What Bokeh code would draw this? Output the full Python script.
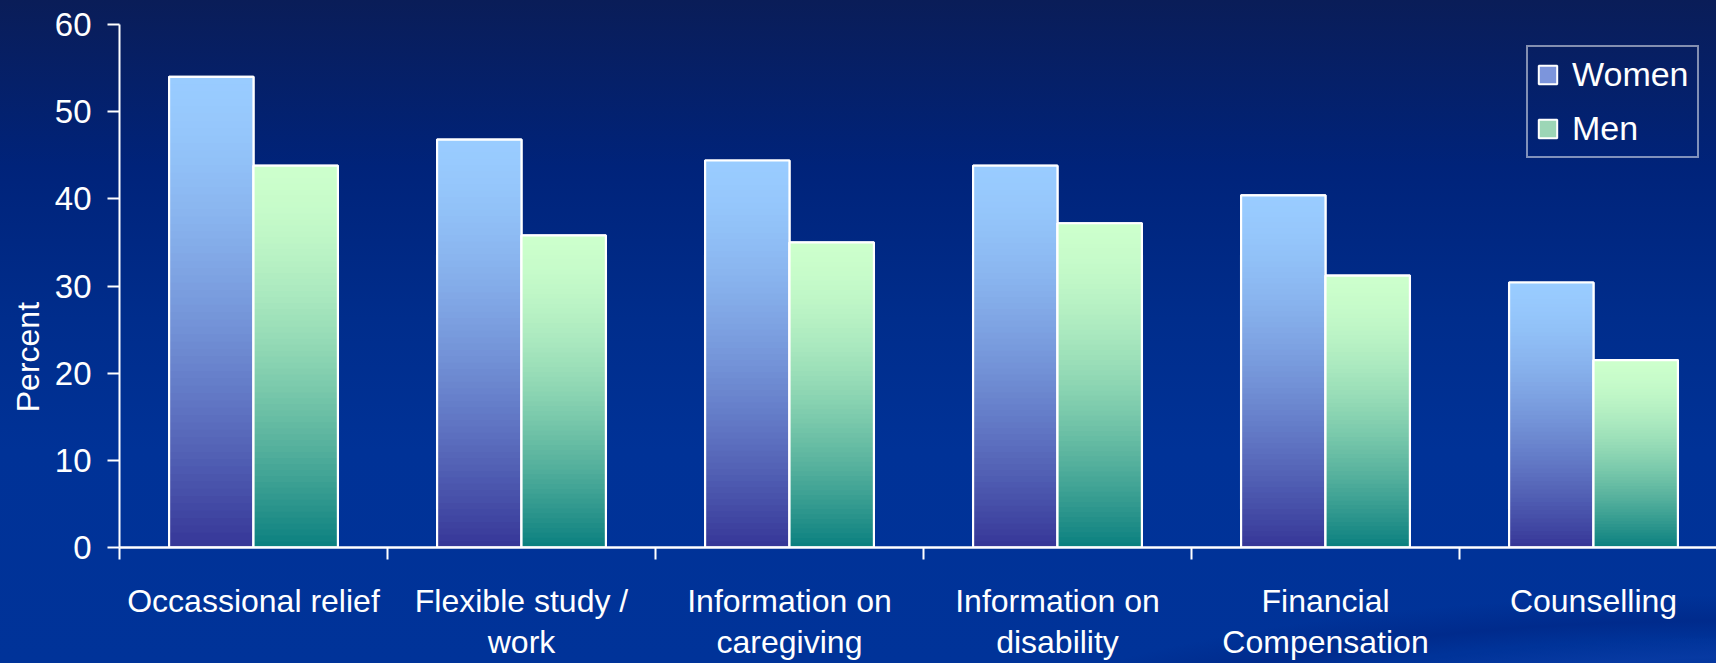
import numpy as np
from bokeh.plotting import figure
from bokeh.models import Range1d, FixedTicker, Legend, LegendItem, ColumnDataSource
from bokeh.embed import file_html
from bokeh.resources import INLINE

# ---------------- data ----------------
categories = ["Occassional relief", "Flexible study /\nwork", "Information on\ncaregiving",
              "Information on\ndisability", "Financial\nCompensation", "Counselling"]
women = [54.0, 46.8, 44.4, 43.8, 40.4, 30.4]
men = [43.8, 35.8, 35.0, 37.2, 31.2, 21.5]
series_names = ["Women", "Men"]
y_ticks = [0, 10, 20, 30, 40, 50, 60]

# ---------------- style ----------------
FONT = "Liberation Sans"
BAR_W = 0.315
N_SLICES = 64

def hex2rgb(h):
    h = h.lstrip("#")
    return np.array([int(h[i:i + 2], 16) for i in (0, 2, 4)], dtype=float)

def mix(c1, c2, f):
    c = c1 + (c2 - c1) * f
    return "#%02x%02x%02x" % tuple(int(round(v)) for v in c)

W, H = 1716, 663
n_cat = len(categories)
x_end = (W - 119) / 268.0

p = figure(width=W, height=H, output_backend="svg", toolbar_location=None, tools="",
           x_range=Range1d(0, x_end), y_range=Range1d(0, 60),
           min_border_left=119, min_border_right=0, min_border_top=24, min_border_bottom=110)
p.border_fill_color = None
p.background_fill_color = None
p.outline_line_color = None
p.styles = {
    "background": (
        "radial-gradient(ellipse 1100px 260px at 100% 118%, rgba(0,30,110,0.0) 55%, rgba(0,36,130,0.55) 62%, rgba(0,36,130,0.0) 72%),"
        "radial-gradient(ellipse 900px 200px at 105% 120%, rgba(20,70,180,0.0) 60%, rgba(20,70,180,0.35) 70%, rgba(20,70,180,0.0) 80%),"
        "linear-gradient(to bottom, #0a1d58 0%, #00237a 25%, #002d8c 48%, #003297 68%, #003399 100%)"
    )
}
p.xgrid.visible = False
p.ygrid.visible = False


def gradient_source(values, lo_off, hi_off, top_hex, bot_hex, gamma):
    ct, cb = hex2rgb(top_hex), hex2rgb(bot_hex)
    L, R, B, T, C = [], [], [], [], []
    for i, v in enumerate(values):
        for j in range(N_SLICES):
            f = ((j + 0.5) / N_SLICES) ** gamma
            L.append(i + 0.5 + lo_off)
            R.append(i + 0.5 + hi_off)
            B.append(0)
            T.append(v * (1 - j / N_SLICES))
            C.append(mix(ct, cb, f))
    return ColumnDataSource(dict(left=L, right=R, bottom=B, top=T, color=C))


series = [
    (series_names[0], women, -BAR_W, 0.0, "#99ccff", "#363697", "#7c95dc", 1.5),
    (series_names[1], men, 0.0, BAR_W, "#ccffcc", "#0a7f7f", "#9cd6b6", 1.6),
]

legend_items = []
for name, vals, lo, hi, top_c, bot_c, mid_c, g in series:
    xs = [i + 0.5 for i in range(n_cat)]
    base = p.quad(left=[x + lo for x in xs], right=[x + hi for x in xs], bottom=0, top=vals,
                  fill_color=mid_c, line_color="white", line_width=2)
    src = gradient_source(vals, lo, hi, top_c, bot_c, g)
    p.quad(left="left", right="right", bottom="bottom", top="top", source=src,
           fill_color="color", line_color=None)
    p.quad(left=[x + lo for x in xs], right=[x + hi for x in xs], bottom=0, top=vals,
           fill_color=None, line_color="white", line_width=2.2)
    legend_items.append(LegendItem(label=name, renderers=[base]))

# ---------------- axes ----------------
xa = p.xaxis[0]
xa.ticker = FixedTicker(ticks=[i + 0.5 for i in range(n_cat)], minor_ticks=list(range(n_cat)))
xa.major_label_overrides = {i + 0.5: c for i, c in enumerate(categories)}
xa.major_tick_out = 0
xa.major_tick_in = 0
xa.minor_tick_out = 12
xa.minor_tick_in = 0
xa.minor_tick_line_color = "white"
xa.minor_tick_line_width = 2
xa.axis_line_color = "white"
xa.axis_line_width = 2.5
xa.major_label_text_color = "white"
xa.major_label_text_font = FONT
xa.major_label_text_font_size = "32px"
xa.major_label_text_line_height = 1.16
xa.major_label_standoff = 23

ya = p.yaxis[0]
ya.ticker = FixedTicker(ticks=y_ticks, minor_ticks=[])
ya.major_tick_out = 12
ya.major_tick_in = 0
ya.major_tick_line_color = "white"
ya.major_tick_line_width = 2
ya.axis_line_color = "white"
ya.axis_line_width = 2
ya.major_label_text_color = "white"
ya.major_label_text_font = FONT
ya.major_label_text_font_size = "33px"
ya.major_label_standoff = 16
ya.axis_label = "Percent" + "\u00a0" * 16
ya.axis_label_text_color = "white"
ya.axis_label_text_font = FONT
ya.axis_label_text_font_size = "32px"
ya.axis_label_text_font_style = "normal"
ya.axis_label_standoff = 6

# ---------------- legend ----------------
legend = Legend(items=legend_items, location=(1407, 389.5), orientation="vertical",
                border_line_color="white", border_line_width=2, background_fill_alpha=0,
                label_text_color="white", label_text_font=FONT, label_text_font_size="34px",
                glyph_width=23, glyph_height=23, label_standoff=13, padding=8, spacing=15,
                margin=0)
p.add_layout(legend)

open("out.html", "w").write(file_html(p, INLINE))
